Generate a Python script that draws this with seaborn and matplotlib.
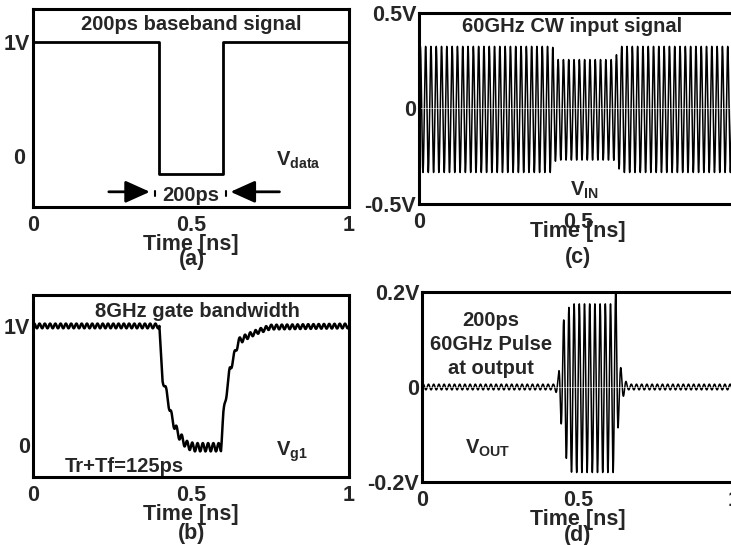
import numpy as np
import pandas as pd
import matplotlib
matplotlib.use("Agg")
import matplotlib.pyplot as plt
import seaborn as sns

sns.set_style("white")
plt.rcParams['font.family'] = ['Liberation Sans', 'DejaVu Sans']
plt.rcParams['font.weight'] = 'bold'
plt.rcParams['mathtext.fontset'] = 'custom'
plt.rcParams['mathtext.rm'] = 'Liberation Sans:bold'
plt.rcParams['mathtext.bf'] = 'Liberation Sans:bold'
plt.rcParams['mathtext.it'] = 'Liberation Sans:bold'

# ---------------- data ----------------
CARRIER_GHZ = 60.0

# (a) baseband data signal
time_a = [0.0, 0.40, 0.40, 0.60, 0.60, 1.0]
vdata = [1.0, 1.0, 0.0, 0.0, 1.0, 1.0]

# (b) gate voltage: slow envelope + 60 GHz ripple
time_b = [0.0, 0.400, 0.404, 0.410, 0.423, 0.433, 0.449, 0.465, 0.486, 0.510,
          0.595, 0.602, 0.615, 0.623, 0.639, 0.650, 0.676, 0.708, 0.750, 1.0]
vg1_level = [1.0, 1.0, 0.78, 0.55, 0.44, 0.29, 0.15, 0.07, 0.0, -0.02,
             -0.02, 0.24, 0.49, 0.63, 0.77, 0.87, 0.91, 0.95, 0.99, 1.0]
time_b_ripple = [0.0, 0.40, 0.45, 0.60, 0.70, 1.0]
vg1_ripple = [0.02, 0.02, 0.035, 0.035, 0.02, 0.02]

# (c) 60 GHz CW input: upper / lower envelope
time_c = [0.0, 0.420, 0.430, 0.612, 0.636, 1.0]
vin_top = [0.325, 0.325, 0.256, 0.256, 0.325, 0.325]
vin_bot = [-0.335, -0.335, -0.27, -0.27, -0.335, -0.335]

# (d) output pulse: upper / lower envelope
time_d = [0.0, 0.425, 0.437, 0.448, 0.458, 0.469, 0.480, 0.605, 0.615,
          0.622, 0.632, 0.645, 0.660, 1.0]
vout_top = [0.006, 0.006, 0.02, 0.13, 0.148, 0.166, 0.175, 0.175, 0.175,
            0.21, 0.055, 0.02, 0.006, 0.006]
vout_bot = [-0.006, -0.006, -0.02, -0.09, -0.136, -0.17, -0.18, -0.18, -0.18,
            -0.17, -0.045, -0.02, -0.006, -0.006]

xticks = [0, 0.5, 1]
xtick_labels = ['0', '0.5', '1']

# ---------------- build waveforms ----------------
t = np.linspace(0, 1, 6001)
carrier = np.sin(2 * np.pi * CARRIER_GHZ * t)

df_a = pd.DataFrame({'t': time_a, 'v': vdata})
vb = np.interp(t, time_b, vg1_level) + np.interp(t, time_b_ripple, vg1_ripple) * carrier
df_b = pd.DataFrame({'t': t, 'v': vb})
top_c = np.interp(t, time_c, vin_top); bot_c = np.interp(t, time_c, vin_bot)
vc = (top_c + bot_c) / 2 + (top_c - bot_c) / 2 * carrier
df_c = pd.DataFrame({'t': t, 'v': vc})
top_d = np.interp(t, time_d, vout_top); bot_d = np.interp(t, time_d, vout_bot)
vd = (top_d + bot_d) / 2 + (top_d - bot_d) / 2 * carrier
df_d = pd.DataFrame({'t': t, 'v': vd})

# ---------------- figure ----------------
fig = plt.figure(figsize=(7.31, 5.45), dpi=100)
axa = fig.add_axes([0.0451, 0.6202, 0.4323, 0.3633])
axc = fig.add_axes([0.5732, 0.6257, 0.4350, 0.3505])
axb = fig.add_axes([0.0451, 0.1248, 0.4323, 0.3339])
axd = fig.add_axes([0.5773, 0.1156, 0.4268, 0.3486])

TICK_FS = 15.5
ANN_FS = 14.5

def style(ax, ylim, yticks, ylabels, xlabelpad):
    ax.set_xlim(0, 1)
    ax.set_ylim(*ylim)
    ax.set_xticks(xticks)
    ax.set_xticklabels(xtick_labels, fontsize=TICK_FS, fontweight='bold')
    ax.set_yticks(yticks)
    ax.set_yticklabels(ylabels, fontsize=TICK_FS, fontweight='bold')
    ax.tick_params(axis='y', direction='in', length=7, width=1.5, pad=2)
    ax.tick_params(axis='x', direction='in', length=3, width=1, pad=6)
    for s in ax.spines.values():
        s.set_linewidth(2.2)
        s.set_color('black')
    ax.set_xlabel('Time [ns]', fontsize=TICK_FS, fontweight='bold', labelpad=xlabelpad)
    ax.set_ylabel('')

# (a)
sns.lineplot(data=df_a, x='t', y='v', ax=axa, color='black', linewidth=2,
             estimator=None, sort=False)
style(axa, (-0.25, 1.25), [0, 1], ['', '1V'], -2)
axa.text(-0.025, 0.12, '0', transform=axa.get_yaxis_transform(), ha='right',
         va='center', fontsize=TICK_FS, fontweight='bold')
axa.text(0.5, 1.13, '200ps baseband signal', ha='center', va='center',
         fontsize=ANN_FS, fontweight='bold')
axa.text(0.84, 0.10, r'$\mathbf{V_{data}}$', ha='center', va='center', fontsize=ANN_FS)
arrow_kw = dict(arrowstyle='-|>,head_length=1.0,head_width=0.45',
                lw=2, color='black', shrinkA=0, shrinkB=0, mutation_scale=15)
axa.annotate('', xy=(0.37, -0.135), xytext=(0.24, -0.135), arrowprops=arrow_kw)
axa.annotate('', xy=(0.625, -0.135), xytext=(0.78, -0.135), arrowprops=arrow_kw)
axa.plot([0.385, 0.385], [-0.13, -0.17], color='black', lw=1.5)
axa.plot([0.612, 0.612], [-0.13, -0.17], color='black', lw=1.5)
axa.text(0.5, -0.165, '200ps', ha='center', va='center', fontsize=ANN_FS, fontweight='bold')

# (c)
sns.lineplot(data=df_c, x='t', y='v', ax=axc, color='black', linewidth=1.1,
             estimator=None, sort=False)
axc.axhline(0, color='white', lw=0.5, alpha=0.8)
style(axc, (-0.5, 0.5), [-0.5, 0, 0.5], ['-0.5V', '0', '0.5V'], -9)
axc.text(0.48, 0.43, '60GHz CW input signal', ha='center', va='center',
         fontsize=ANN_FS, fontweight='bold')
axc.text(0.52, -0.43, r'$\mathbf{V_{IN}}$', ha='center', va='center', fontsize=ANN_FS)

# (b)
sns.lineplot(data=df_b, x='t', y='v', ax=axb, color='black', linewidth=1.8,
             estimator=None, sort=False)
style(axb, (-0.27, 1.26), [0, 1], ['0', '1V'], -2)
axb.text(0.52, 1.12, '8GHz gate bandwidth', ha='center', va='center',
         fontsize=ANN_FS, fontweight='bold')
axb.text(0.29, -0.18, 'Tr+Tf=125ps', ha='center', va='center',
         fontsize=ANN_FS, fontweight='bold')
axb.text(0.82, -0.06, r'$\mathbf{V_{g1}}$', ha='center', va='center', fontsize=ANN_FS)

# (d)
sns.lineplot(data=df_d, x='t', y='v', ax=axd, color='black', linewidth=1.1,
             estimator=None, sort=False)
axd.axhline(0, color='white', lw=0.5, alpha=0.8)
style(axd, (-0.2, 0.2), [-0.2, 0, 0.2], ['-0.2V', '0', '0.2V'], -2)
axd.text(0.22, 0.14, '200ps', ha='center', va='center', fontsize=ANN_FS, fontweight='bold')
axd.text(0.22, 0.09, '60GHz Pulse', ha='center', va='center', fontsize=ANN_FS, fontweight='bold')
axd.text(0.22, 0.04, 'at output', ha='center', va='center', fontsize=ANN_FS, fontweight='bold')
axd.text(0.21, -0.13, r'$\mathbf{V_{OUT}}$', ha='center', va='center', fontsize=ANN_FS)

# panel letters
fig.text(192 / 731, 1 - 260 / 545, '(a)', ha='center', va='center', fontsize=TICK_FS, fontweight='bold')
fig.text(578 / 731, 1 - 258 / 545, '(c)', ha='center', va='center', fontsize=TICK_FS, fontweight='bold')
fig.text(192 / 731, 1 - 534 / 545, '(b)', ha='center', va='center', fontsize=TICK_FS, fontweight='bold')
fig.text(578 / 731, 1 - 535 / 545, '(d)', ha='center', va='center', fontsize=TICK_FS, fontweight='bold')

fig.savefig('out.png', dpi=100)
